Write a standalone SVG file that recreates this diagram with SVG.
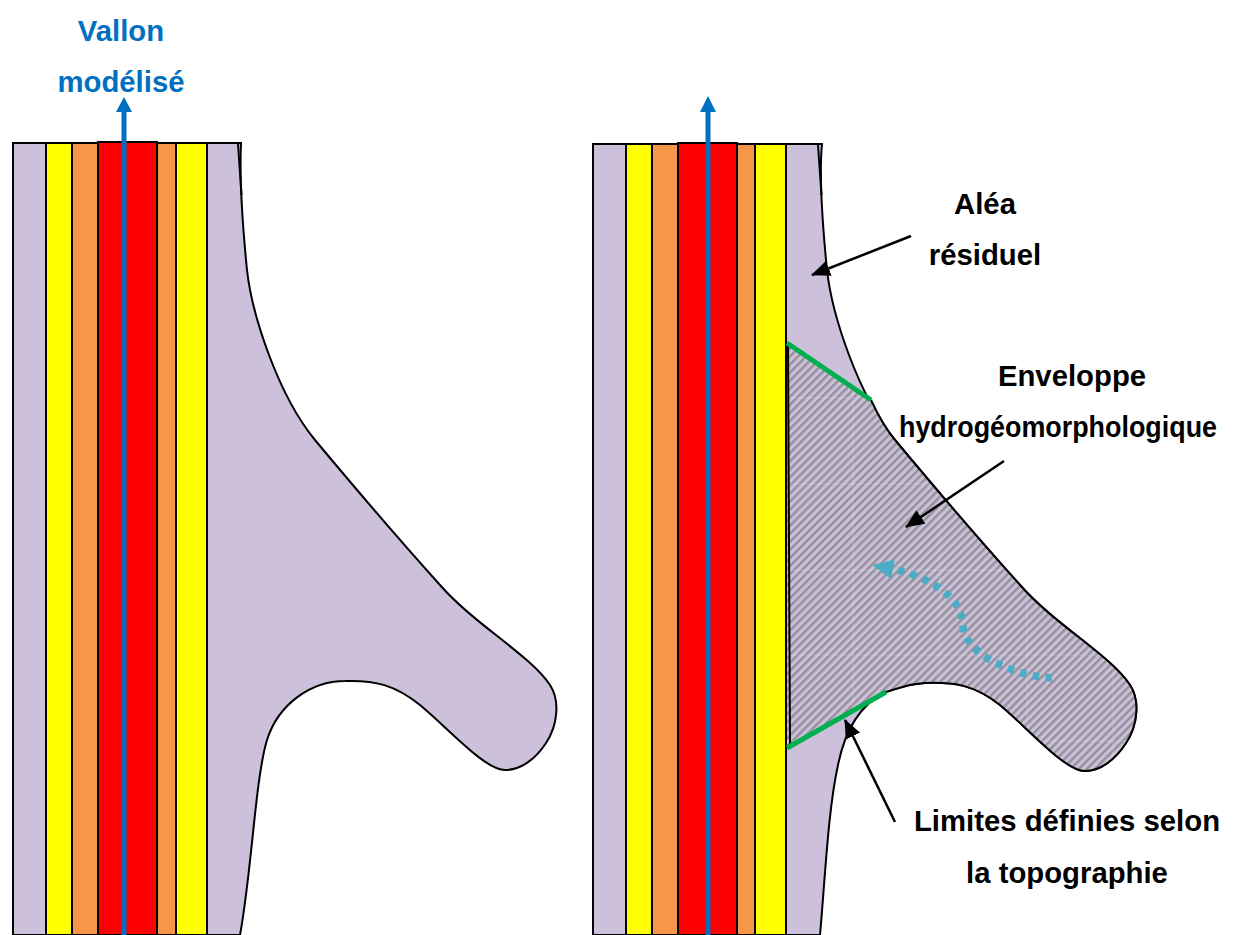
<svg xmlns="http://www.w3.org/2000/svg" width="1247" height="935" viewBox="0 0 1247 935">
<style>
.o{stroke:#000;stroke-width:2;fill:none}
.b{stroke:#000;stroke-width:2}
.t{font-family:"Liberation Sans",Arial,sans-serif;font-weight:bold;font-size:29.3px;text-anchor:middle;fill:#000}
.v{fill:#0070c0}
.a{stroke:#000;stroke-width:2.5;fill:none;marker-end:url(#k)}
.g{stroke:#00b050;stroke-width:5;fill:none}
.s{stroke:#ffffff;stroke-opacity:.18;stroke-width:1;fill:none}
</style>
<defs>
<marker id="k" markerUnits="userSpaceOnUse" markerWidth="20" markerHeight="18" refX="18" refY="8" orient="auto"><path d="M0 0L19 8L0 16Z" fill="#000"/></marker>
<marker id="c" markerUnits="userSpaceOnUse" markerWidth="24" markerHeight="22" refX="1" refY="10" orient="auto"><path d="M0 0L21 10L0 20Z" fill="#4bacc6"/></marker>
<pattern id="h" width="5.7" height="5.7" patternUnits="userSpaceOnUse" patternTransform="rotate(-45)"><rect width="5.7" height="5.7" fill="#cbc0d8"/><rect y="0" width="5.7" height="2.4" fill="#93909c"/></pattern>
<clipPath id="hc"><path d="M787 343L871 400C878 415 885 428 895 440C925 476 975 535 1020 585C1055 625 1110 655 1130 685C1140 700 1138 725 1126 743C1115 760 1100 771 1085 771C1065 771 1030 730 1000 705C975 685 955 682 925 683C905 684 895 690 885 692L787 748Z"/></clipPath>
</defs>
<g id="left-zone">
<path id="left-shape" class="o" style="fill:#ccc0da" d="M13 143H241C240 165 241 210 247 270C252 315 278 395 315 440C345 476 395 535 440 585C475 625 530 655 550 685C560 700 558 725 546 743C535 760 520 770 505 770C485 770 450 730 420 705C395 685 375 680 345 681C310 681 278 705 267 740C255 780 252 870 240 935H13Z"/>
<path class="o" d="M238 144L241.500 195"/>
<rect x="46" y="143" width="26" height="792" fill="#ffff00" class="b"/>
<rect x="72" y="143" width="26" height="792" fill="#f79646" class="b"/>
<rect x="98" y="142" width="59" height="793" fill="#ff0000" class="b"/>
<rect x="157" y="143" width="19" height="792" fill="#f79646" class="b"/>
<rect x="176" y="143" width="31" height="792" fill="#ffff00" class="b"/>
</g>
<g id="right-zone">
<path id="right-shape" class="o" style="fill:#ccc0da" d="M593 144H822C820 165 821 210 827 270C832 315 858 395 895 440C925 476 975 535 1020 585C1055 625 1110 655 1130 685C1140 700 1138 725 1126 743C1115 760 1100 771 1085 771C1065 771 1030 730 1000 705C975 685 955 682 925 683C905 684 895 690 885 692C860 705 845 730 838 765C828 810 825 880 820 935H593Z"/>
<path class="o" d="M818 145L821.500 195"/>
<path id="hatched" style="fill:url(#h)" d="M787 343L871 400C878 415 885 428 895 440C925 476 975 535 1020 585C1055 625 1110 655 1130 685C1140 700 1138 725 1126 743C1115 760 1100 771 1085 771C1065 771 1030 730 1000 705C975 685 955 682 925 683C905 684 895 690 885 692L787 748Z"/>
<path class="s" clip-path="url(#hc)" d="M787 398H1140M787 484H1140M787 570H1140M787 655H1140M787 741H1140M853 340V780M940 340V780M1027 340V780M1113 340V780"/>
<path class="o" d="M871 400C878 415 885 428 895 440C925 476 975 535 1020 585C1055 625 1110 655 1130 685C1140 700 1138 725 1126 743C1115 760 1100 771 1085 771C1065 771 1030 730 1000 705C975 685 955 682 925 683C905 684 895 690 885 692"/>
<path class="o" d="M788 343L790 745"/>
<rect x="626" y="144" width="26" height="791" fill="#ffff00" class="b"/>
<rect x="652" y="144" width="26" height="791" fill="#f79646" class="b"/>
<rect x="678" y="143" width="59" height="792" fill="#ff0000" class="b"/>
<rect x="737" y="144" width="18" height="791" fill="#f79646" class="b"/>
<rect x="755" y="144" width="31" height="791" fill="#ffff00" class="b"/>
</g>
<g id="connectors">
<path class="v" d="M121.500 935V112H116L124 97L132 112H126.500V935Z"/>
<path class="v" d="M705.500 935V112H700L708 96L716 112H710.500V935Z"/>
<path class="g" d="M787 343L871 400"/>
<path class="g" d="M787 748L886 692"/>
<path class="a" d="M911 236L812 275"/>
<path class="a" d="M1004 461L906 527"/>
<path class="a" d="M895 822L845 720"/>
<path d="M1052 678C1030 677 1008 670 987 658C975 650 965 640 963 627C962 615 960 607 950 597C935 582 912 573 892 569" fill="none" stroke="#4bacc6" stroke-width="7.500" stroke-dasharray="6.500 6.500" marker-end="url(#c)"/>
</g>
<g id="labels">
<text class="t" x="121" y="41" style="fill:#0070c0">Vallon</text>
<text class="t" x="121" y="92" style="fill:#0070c0">modélisé</text>
<text class="t" x="985" y="214">Aléa</text>
<text class="t" x="985" y="265">résiduel</text>
<text class="t" x="1072" y="386">Enveloppe</text>
<text class="t" x="1058" y="437" textLength="318" lengthAdjust="spacingAndGlyphs">hydrogéomorphologique</text>
<text class="t" x="1067" y="831">Limites définies selon</text>
<text class="t" x="1067" y="883">la topographie</text>
</g>
</svg>
